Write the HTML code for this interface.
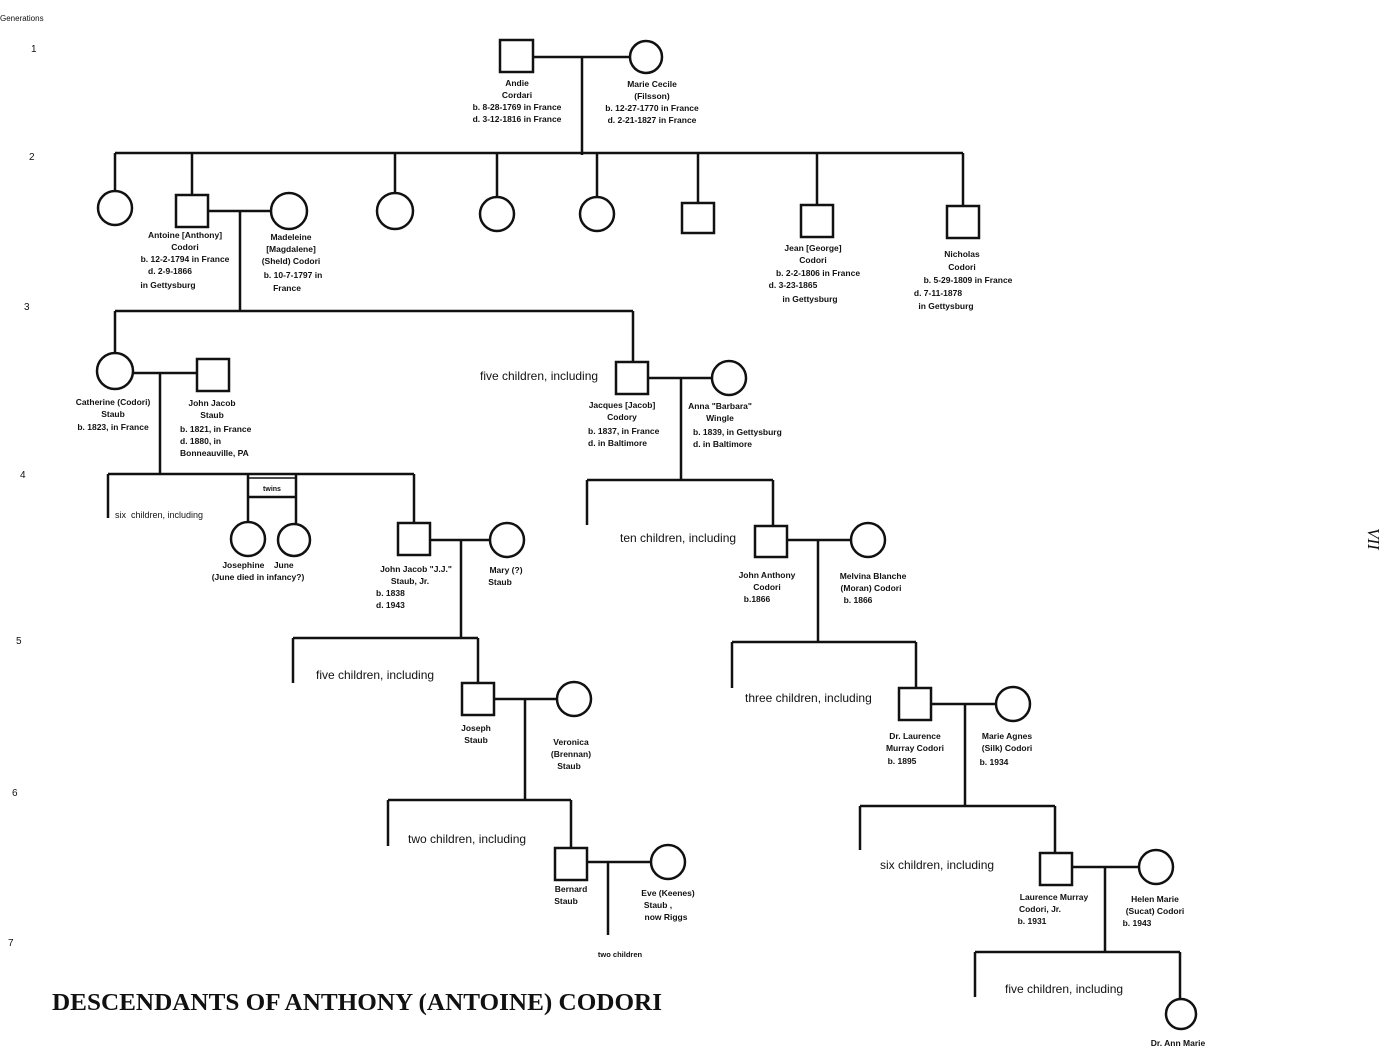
<!DOCTYPE html>
<html><head><meta charset="utf-8"><style>
html,body{margin:0;padding:0;background:#fff;}
svg{display:block;}
.t{font-family:"Liberation Sans",sans-serif;font-size:8.5px;font-weight:bold;fill:#111;}
.s{font-family:"Liberation Sans",sans-serif;font-size:12px;fill:#111;}
.g{font-family:"Liberation Sans",sans-serif;font-size:10px;fill:#111;}
</style></head><body>
<svg width="1391" height="1050" viewBox="0 0 1391 1050" xmlns="http://www.w3.org/2000/svg">
<g class="g"><text x="0" y="21" font-size="8">Generations</text>
<text x="31" y="52">1</text><text x="29" y="160">2</text><text x="24" y="310">3</text><text x="20" y="478">4</text><text x="16" y="644">5</text><text x="12" y="796">6</text><text x="8" y="946">7</text></g>
<g stroke="#111" stroke-width="2.5" fill="none">
<rect x="500" y="40" width="33" height="32"/><circle cx="646" cy="57" r="16"/>
<path d="M533 57H630M582 57V155"/>
<path d="M115 153H963M115 153V191M192 153V195M395 153V193M497 153V197M597 153V197M698 153V203M817 153V205M963 153V206"/>
<circle cx="115" cy="208" r="17"/><rect x="176" y="195" width="32" height="32"/><circle cx="289" cy="211" r="18"/>
<circle cx="395" cy="211" r="18"/><circle cx="497" cy="214" r="17"/><circle cx="597" cy="214" r="17"/>
<rect x="682" y="203" width="32" height="30"/><rect x="801" y="205" width="32" height="32"/><rect x="947" y="206" width="32" height="32"/>
<path d="M208 211H271M240 211V311"/>
<path d="M115 311H633M115 311V353M633 311V362"/>
<circle cx="115" cy="371" r="18"/><rect x="197" y="359" width="32" height="32"/><path d="M133 373H197M160 373V474"/>
<rect x="616" y="362" width="32" height="32"/><circle cx="729" cy="378" r="17"/><path d="M648 378H712M681 378V480"/>
<path d="M108 474H414M108 474V518M248 474V522M296 474V523M414 474V523M248 497H296"/>
<rect x="248" y="478" width="48" height="19" stroke-width="1.5"/>
<circle cx="248" cy="539" r="17"/><circle cx="294" cy="540" r="16"/>
<rect x="398" y="523" width="32" height="32"/><circle cx="507" cy="540" r="17"/><path d="M430 540H490M461 540V638"/>
<path d="M587 480H773M587 480V525M773 480V526"/>
<rect x="755" y="526" width="32" height="31"/><circle cx="868" cy="540" r="17"/><path d="M787 540H851M818 540V641"/>
<path d="M293 638H478M293 638V683M478 638V683"/>
<rect x="462" y="683" width="32" height="32"/><circle cx="574" cy="699" r="17"/><path d="M494 699H557M525 699V800"/>
<path d="M732 642H916M732 642V688M916 642V688"/>
<rect x="899" y="688" width="32" height="32"/><circle cx="1013" cy="704" r="17"/><path d="M931 704H996M965 704V806"/>
<path d="M388 800H571M388 800V846M571 800V848"/>
<rect x="555" y="848" width="32" height="32"/><circle cx="668" cy="862" r="17"/><path d="M587 862H651M608 862V935"/>
<path d="M860 806H1055M860 806V850M1055 806V853"/>
<rect x="1040" y="853" width="32" height="32"/><circle cx="1156" cy="867" r="17"/><path d="M1072 867H1139M1105 867V952"/>
<path d="M975 952H1180M975 952V997M1180 952V999"/>
<circle cx="1181" cy="1014" r="15"/>
</g>
<g class="t" text-anchor="middle">
<text x="517" y="86">Andie</text><text x="517" y="98">Cordari</text><text x="517" y="110">b. 8-28-1769 in France</text><text x="517" y="122">d. 3-12-1816 in France</text>
<text x="652" y="87">Marie Cecile</text><text x="652" y="99">(Filsson)</text><text x="652" y="111">b. 12-27-1770 in France</text><text x="652" y="123">d. 2-21-1827 in France</text>
<text x="185" y="238">Antoine [Anthony]</text><text x="185" y="250">Codori</text><text x="185" y="262">b. 12-2-1794 in France</text><text x="170" y="274">d. 2-9-1866</text><text x="168" y="288">in Gettysburg</text>
<text x="291" y="240">Madeleine</text><text x="291" y="252">[Magdalene]</text><text x="291" y="264">(Sheld) Codori</text><text x="293" y="278">b. 10-7-1797 in</text><text x="287" y="291">France</text>
<text x="813" y="251">Jean [George]</text><text x="813" y="263">Codori</text><text x="818" y="276">b. 2-2-1806 in France</text><text x="793" y="288">d. 3-23-1865</text><text x="810" y="302">in Gettysburg</text>
<text x="962" y="257">Nicholas</text><text x="962" y="270">Codori</text><text x="968" y="283">b. 5-29-1809 in France</text><text x="938" y="296">d. 7-11-1878</text><text x="946" y="309">in Gettysburg</text>
<text x="113" y="405">Catherine (Codori)</text><text x="113" y="417">Staub</text><text x="113" y="430">b. 1823, in France</text>
<text x="212" y="406">John Jacob</text><text x="212" y="418">Staub</text>
<text x="180" y="432" text-anchor="start">b. 1821, in France</text><text x="180" y="444" text-anchor="start">d. 1880, in</text><text x="180" y="456" text-anchor="start">Bonneauville, PA</text>
<text x="622" y="408">Jacques [Jacob]</text><text x="622" y="420">Codory</text><text x="588" y="434" text-anchor="start">b. 1837, in France</text><text x="588" y="446" text-anchor="start">d. in Baltimore</text>
<text x="720" y="409">Anna "Barbara"</text><text x="720" y="421">Wingle</text><text x="693" y="435" text-anchor="start">b. 1839, in Gettysburg</text><text x="693" y="447" text-anchor="start">d. in Baltimore</text>
<text x="272" y="491" font-size="7">twins</text>
<text x="258" y="568">Josephine&#160;&#160;&#160;&#160;June</text><text x="258" y="580">(June died in infancy?)</text>
<text x="416" y="572">John Jacob "J.J."</text><text x="410" y="584">Staub, Jr.</text><text x="376" y="596" text-anchor="start">b. 1838</text><text x="376" y="608" text-anchor="start">d. 1943</text>
<text x="506" y="573">Mary (?)</text><text x="500" y="585">Staub</text>
<text x="767" y="578">John Anthony</text><text x="767" y="590">Codori</text><text x="757" y="602">b.1866</text>
<text x="873" y="579">Melvina Blanche</text><text x="871" y="591">(Moran) Codori</text><text x="858" y="603">b. 1866</text>
<text x="476" y="731">Joseph</text><text x="476" y="743">Staub</text>
<text x="571" y="745">Veronica</text><text x="571" y="757">(Brennan)</text><text x="569" y="769">Staub</text>
<text x="915" y="739">Dr. Laurence</text><text x="915" y="751">Murray Codori</text><text x="902" y="764">b. 1895</text>
<text x="1007" y="739">Marie Agnes</text><text x="1007" y="751">(Silk) Codori</text><text x="994" y="765">b. 1934</text>
<text x="571" y="892">Bernard</text><text x="566" y="904">Staub</text>
<text x="668" y="896">Eve (Keenes)</text><text x="658" y="908">Staub ,</text><text x="666" y="920">now Riggs</text>
<text x="620" y="957" font-size="7.5">two children</text>
<text x="1054" y="900">Laurence Murray</text><text x="1040" y="912">Codori, Jr.</text><text x="1032" y="924">b. 1931</text>
<text x="1155" y="902">Helen Marie</text><text x="1155" y="914">(Sucat) Codori</text><text x="1137" y="926">b. 1943</text>
<text x="1178" y="1046">Dr. Ann Marie</text>
</g>
<g class="s">
<text x="480" y="380">five children, including</text>
<text x="115" y="518" font-size="9">six&#160;&#160;children, including</text>
<text x="620" y="542">ten children, including</text>
<text x="316" y="679">five children, including</text>
<text x="745" y="702">three children, including</text>
<text x="408" y="843">two children, including</text>
<text x="880" y="869">six children, including</text>
<text x="1005" y="993">five children, including</text>
</g>
<text x="52" y="1010" textLength="610" lengthAdjust="spacingAndGlyphs" font-family="Liberation Serif,serif" font-weight="bold" font-size="24" fill="#111">DESCENDANTS OF ANTHONY (ANTOINE) CODORI</text>
<text x="0" y="0" transform="translate(1368,528) rotate(90)" font-family="Liberation Serif,serif" font-style="italic" font-size="17" fill="#111">VII</text>
</svg>
</body></html>
